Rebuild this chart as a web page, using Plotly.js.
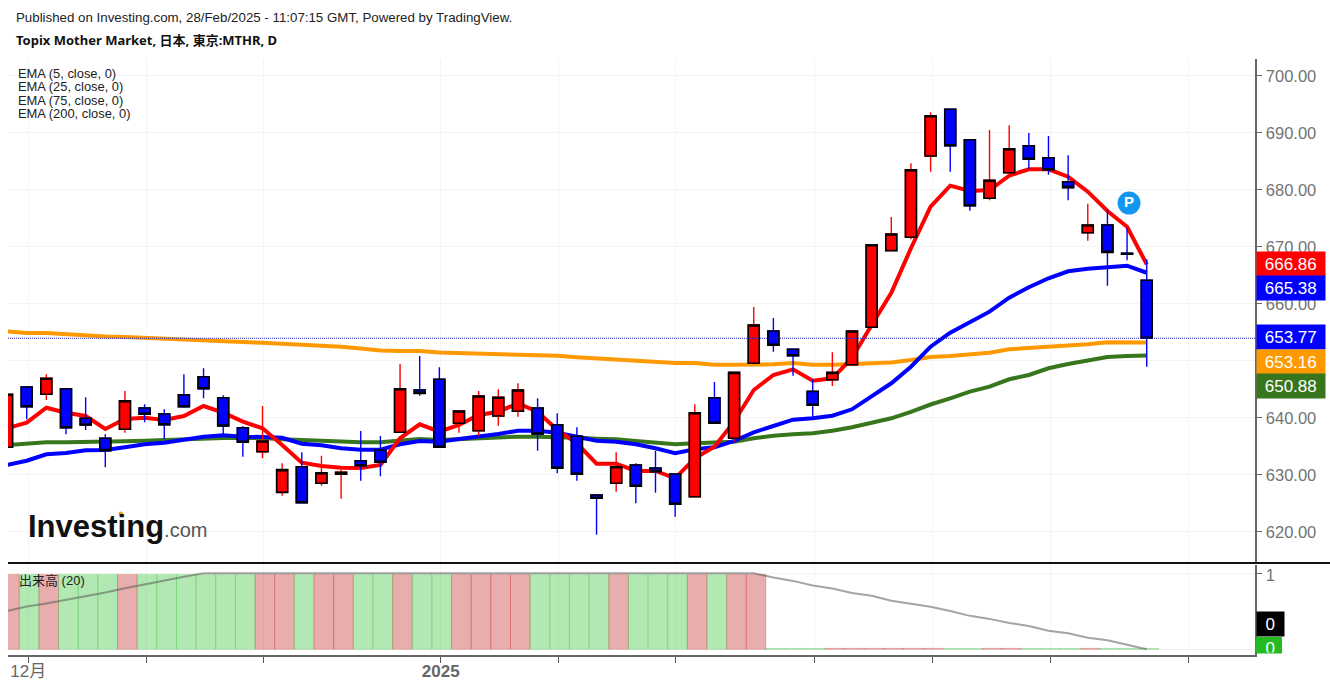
<!DOCTYPE html>
<html><head><meta charset="utf-8">
<script src="https://cdn.plot.ly/plotly-3.0.1.min.js"></script>
<style>html,body{margin:0;padding:0;background:#fff;overflow:hidden}</style>
</head><body><div id="chart" style="width:1330px;height:688px"></div>
<script>
const open_ = [634.79,645.36,644.08,645.06,639.87,636.37,637.95,641.68,640.63,644.01,647.16,643.48,638.23,634.02,626.9,631.39,628.48,630.06,632.44,634.27,637.42,644.83,646.71,639.0,637.7,640.28,641.1,641.68,638.75,636.72,626.43,628.48,631.69,631.16,630.11,626.13,643.48,636.37,649.51,655.17,651.97,644.6,646.64,649.27,655.82,669.25,671.59,685.84,694.03,688.7,678.43,682.91,687.65,685.54,681.34,672.4,673.75,668.8,664.06];
const high_ = [644.08,645.53,647.58,645.06,643.55,637.07,644.66,642.33,641.45,647.58,648.64,643.9,638.52,642.03,631.99,633.91,633.32,630.81,637.65,636.77,649.39,650.79,648.81,641.15,644.66,644.96,646.0,643.38,640.75,638.3,626.5,633.91,631.99,634.2,630.11,642.33,646.23,648.0,659.38,657.45,652.0,646.71,651.44,655.2,670.3,675.15,684.56,693.5,694.03,688.7,690.4,691.22,689.87,689.35,685.96,677.48,676.5,673.28,667.74];
const low_ = [634.79,639.7,643.08,637.07,637.82,631.29,637.35,639.17,636.25,641.73,643.38,637.07,633.14,632.86,626.31,625.0,628.06,625.78,628.94,629.71,637.42,643.83,634.79,637.35,636.82,638.58,640.15,634.2,630.23,628.94,619.47,627.01,624.98,626.83,622.63,626.13,639.0,635.77,649.5,651.55,647.34,640.05,645.53,649.27,655.82,669.25,671.24,683.09,683.09,676.25,678.08,682.91,683.56,682.56,678.08,671.0,663.11,667.56,648.92];
const close_ = [644.08,641.91,646.88,638.23,638.7,634.2,642.96,640.57,638.75,641.91,645.06,638.52,635.67,635.9,630.87,625.08,630.34,630.41,631.57,632.16,645.06,644.25,634.79,641.15,643.78,643.55,644.83,637.12,631.11,630.06,625.85,631.39,627.96,630.52,624.8,640.85,639.0,647.93,656.22,652.67,650.84,642.15,647.93,655.17,670.3,672.17,683.44,692.9,687.65,677.13,681.58,687.12,685.26,683.44,680.29,673.75,668.96,668.65,653.9];
const ema5 = [638.12,639.10,641.73,640.85,640.28,638.0,639.75,639.98,639.58,640.28,642.03,640.85,639.28,638.12,635.19,632.09,631.51,631.22,631.16,631.69,636.37,638.82,637.53,638.7,640.45,641.03,642.5,641.03,637.82,635.49,631.92,631.92,630.64,630.64,629.36,632.86,634.9,639.28,644.83,647.46,648.46,646.46,646.88,650.44,656.22,661.88,669.67,676.96,680.64,679.71,679.88,682.39,683.51,683.51,682.21,679.59,676.2,673.45,666.86];
const ema25 = [631.69,632.44,633.56,633.79,634.27,634.32,634.79,635.32,635.6,636.19,636.65,636.89,636.65,636.6,636.47,635.42,635.14,634.62,634.37,634.37,635.32,635.9,635.77,636.25,636.65,637.12,637.7,637.7,637.35,636.65,635.95,635.77,635.32,634.62,633.74,634.44,634.79,635.9,637.42,638.52,639.63,639.87,640.33,641.45,643.66,646.01,648.92,652.42,654.87,656.8,658.56,661.01,662.83,664.41,665.64,666.09,666.34,666.62,665.38];
const ema75 = [635.19,635.49,635.67,635.67,635.67,635.72,635.84,635.95,636.07,636.3,636.37,636.42,636.42,636.42,636.19,636.02,635.9,635.72,635.67,635.67,635.9,636.25,636.07,636.25,636.3,636.47,636.65,636.65,636.6,636.47,636.3,636.19,635.9,635.67,635.32,635.49,635.67,635.77,636.37,636.82,637.07,637.24,637.7,638.3,639.1,639.87,640.98,642.29,643.38,644.54,645.41,646.71,647.46,648.64,649.39,650.09,650.62,650.79,650.88];
const ema200 = [655.08,654.82,654.82,654.56,654.3,654.21,654.12,653.95,653.77,653.6,653.42,653.42,653.24,653.12,652.98,652.84,652.63,652.42,652.11,651.76,651.67,651.67,651.4,651.32,651.32,651.09,651.09,651.09,650.84,650.56,650.35,650.09,650.04,649.83,649.56,649.56,649.27,649.27,649.27,649.34,649.56,649.27,649.27,649.34,649.48,649.65,650.09,650.62,650.79,651.05,651.37,651.97,652.19,652.37,652.54,652.84,653.19,653.24,653.16];
const volume = [0.985,0.985,0.985,0.985,0.985,0.985,0.985,0.985,0.985,0.985,0.985,0.985,0.985,0.985,0.985,0.985,0.985,0.985,0.985,0.985,0.985,0.985,0.985,0.985,0.985,0.985,0.985,0.985,0.985,0.985,0.985,0.985,0.985,0.985,0.985,0.985,0.985,0.985,0.985,0.012,0.012,0.012,0.012,0.012,0.012,0.012,0.012,0.012,0.012,0.012,0.012,0.012,0.012,0.012,0.012,0.012,0.012,0.012,0.012];
const volumeMA = [0.504,0.563,0.603,0.649,0.695,0.747,0.803,0.855,0.905,0.955,1,1,1,1,1,1,1,1,1,1,1,1,1,1,1,1,1,1,1,1,1,1,1,1,1,1,1,1,1,0.945,0.90,0.84,0.80,0.74,0.705,0.64,0.60,0.56,0.504,0.44,0.40,0.346,0.307,0.245,0.21,0.153,0.118,0.057,0];
const tickIndex = [1.08,7.1,13.06,22.07,28.04,34.04,41.07,47.1,53.1,60.1];
const tickLabels = ['12月','','','<b>2025</b>','','','','','',''];
const priceTicks = [620,630,640,650,660,670,680,690,700];
const lastPrice = 653.9;
const pointMarker = {i:57.1, v:677.6};
const days = open_.map((_, i) => i);
const bodyHigh = open_.map((o, i) => Math.max(o, close_[i]));
const bodyLow = open_.map((o, i) => Math.min(o, close_[i]));
const volColors = close_.map((c, i) => c >= open_[i] ? 'rgba(190,20,20,0.35)' : 'rgba(0,180,0,0.30)');
const volEdges = close_.map((c, i) => c >= open_[i] ? 'rgba(190,20,20,0.22)' : 'rgba(0,170,0,0.18)');

const line = (y, color, width) => ({type:'scatter', mode:'lines', x:days, y, xaxis:'x', yaxis:'y', line:{color, width}, hoverinfo:'skip', showlegend:false});
const traces = [
  line(ema200, '#ff9900', 4),
  line(ema75, '#38761d', 4),
  line(ema25, '#0000ff', 4),
  line(ema5, '#ff0000', 4),
  {type:'candlestick', x:days, open:open_, high:high_, low:low_, close:close_, xaxis:'x', yaxis:'y2',
   increasing:{line:{color:'#ff0000',width:1.4}, fillcolor:'#ff0000'},
   decreasing:{line:{color:'#0000ff',width:1.4}, fillcolor:'#0000ff'}, showlegend:false, hoverinfo:'skip'},
  {type:'candlestick', x:days, open:open_, high:bodyHigh, low:bodyLow, close:close_, xaxis:'x', yaxis:'y2',
   increasing:{line:{color:'#000000',width:1.6}, fillcolor:'#ff0000'},
   decreasing:{line:{color:'#000000',width:1.6}, fillcolor:'#0000ff'}, showlegend:false, hoverinfo:'skip'},
  {type:'scatter', mode:'markers+text', x:[pointMarker.i], y:[pointMarker.v], xaxis:'x', yaxis:'y2', text:['<b>P</b>'], textposition:'middle center',
   textfont:{family:'Liberation Sans',size:15,color:'#ffffff'}, marker:{size:23,color:'#1296f0'}, showlegend:false, hoverinfo:'skip'},
  {type:'bar', x:days, y:volume, xaxis:'x', yaxis:'y3', width:1, offset:-0.38, marker:{color:volColors, line:{color:volEdges,width:1}}, showlegend:false, hoverinfo:'skip'},
  {type:'scatter', mode:'lines', x:days, y:volumeMA, xaxis:'x', yaxis:'y3', line:{color:'rgba(90,90,90,0.55)',width:2}, showlegend:false, hoverinfo:'skip'}
];

const W = 1247, H = 596, L = 8, B = 655;
const px = X => (X - L) / W;
const py = Y => (B - Y) / H;
const sans = '"Liberation Sans", Arial, sans-serif';
const txt = (X, Y, text, size, color, family) => ({xref:'paper', yref:'paper', x:px(X), y:py(Y), xanchor:'left', yanchor:'middle', text, showarrow:false,
  font:{family:family||sans, size, color}, borderpad:0});
const tag = (top, bottom, text, bg, width, valign) => ({xref:'paper', yref:'paper', x:px(1255.5), y:py(bottom), xanchor:'left', yanchor:'bottom', width:width||67.5, height:bottom-top,
  text, showarrow:false, bgcolor:bg, borderpad:0, align:'center', valign:valign||'middle', font:{family:sans, size:17, color:'#ffffff'}});
const priceRange = [614.69, 702.84];
const layout = {
  width:1330, height:688, paper_bgcolor:'#fff', plot_bgcolor:'#fff', showlegend:false, boxgap:0.2, boxmode:'overlay', bargap:0,
  margin:{l:L, r:75, t:59, b:33, pad:0},
  xaxis:{domain:[0,1], range:[0.048,63.51], anchor:'y3', rangeslider:{visible:false}, tickmode:'array', tickvals:tickIndex, ticktext:tickLabels,
    ticks:'outside', ticklen:6, tickcolor:'#555', tickwidth:1, showgrid:true, gridcolor:'#f4f4f4', gridwidth:1, zeroline:false,
    showline:true, linecolor:'#666', linewidth:1.5, tickangle:0, ticklabelstandoff:-6, ticklabeloverflow:'allow',
    tickfont:{family:'"Liberation Sans","Noto Sans CJK JP",sans-serif', size:17, color:'#666'}},
  yaxis:{domain:[py(562),1], range:priceRange, side:'right', anchor:'x', tickmode:'array', tickvals:priceTicks, ticktext:priceTicks.map(v=>v.toFixed(2)),
    ticks:'outside', ticklen:5, tickcolor:'#666', showgrid:true, gridcolor:'#f4f4f4', gridwidth:1, zeroline:false, showline:true, linecolor:'#666', linewidth:1.5,
    ticklabelshift:1, ticklabelstandoff:1, tickfont:{family:sans, size:16.5, color:'#737373'}},
  yaxis2:{domain:[py(562),1], range:priceRange, side:'right', overlaying:'y', anchor:'x', showgrid:false, showticklabels:false, ticks:'', zeroline:false, showline:false},
  yaxis3:{domain:[0,py(565)], range:[-0.075,1.109], side:'right', anchor:'x', tickmode:'array', tickvals:[0,1], ticktext:['','1'],
    ticks:'outside', ticklen:5, tickcolor:'#666', showgrid:true, gridcolor:'#f4f4f4', zeroline:false, showline:true, linecolor:'#666', linewidth:1.5,
    ticklabelshift:2, ticklabelstandoff:1, tickfont:{family:sans, size:16.5, color:'#737373'}},
  shapes:[
    {type:'line', xref:'paper', yref:'y', x0:0, x1:1, y0:lastPrice, y1:lastPrice, line:{color:'#2222bb',width:1,dash:'1px,1px'}},
    {type:'line', xref:'paper', yref:'paper', x0:0, x1:px(1330), y0:py(563), y1:py(563), line:{color:'#111',width:2}},
    {type:'circle', xref:'paper', yref:'paper', x0:px(118.5), x1:px(123), y0:py(516), y1:py(511.5), fillcolor:'#f7a21b', line:{width:0}},
    {type:'rect', xref:'paper', yref:'paper', x0:px(1255.5), x1:px(1282), y0:py(653.5), y1:py(637), fillcolor:'#22bb22', line:{width:0}}
  ],
  annotations:[
    txt(15,17,'Published on Investing.com, 28/Feb/2025 - 11:07:15 GMT, Powered by TradingView.',13.3,'#222'),
    txt(14.5,40,'<b>Topix Mother Market, 日本, 東京:MTHR, D</b>',13,'#111','"Noto Sans","Noto Sans CJK JP",sans-serif'),
    txt(17,73,'EMA (5, close, 0)',12.9,'#222'),
    txt(17,86.5,'EMA (25, close, 0)',12.9,'#222'),
    txt(17,100,'EMA (75, close, 0)',12.9,'#222'),
    txt(17,114,'EMA (200, close, 0)',12.9,'#222'),
    txt(18,580,'出来高 (20)',13,'#222','"Liberation Sans","Noto Sans CJK JP",sans-serif'),
    txt(27,526,'<b>Investing</b><span style="font-size:20px;color:#555">.com</span>',31,'#111'),
    tag(253,277,'666.86','#ff0000'),
    tag(277,301,'665.38','#0000ff'),
    tag(326.5,350.5,'653.77','#0000ff'),
    tag(350.5,374.5,'653.16','#ff9900'),
    tag(374.5,398.5,'650.88','#38761d'),
    tag(613,637,'0','#000000',26.5),
    tag(640,653.5,'0','rgba(0,0,0,0)',26.5,'top')
  ]
};
Plotly.newPlot('chart', traces, layout, {staticPlot:true, displayModeBar:false});
</script></body></html>
